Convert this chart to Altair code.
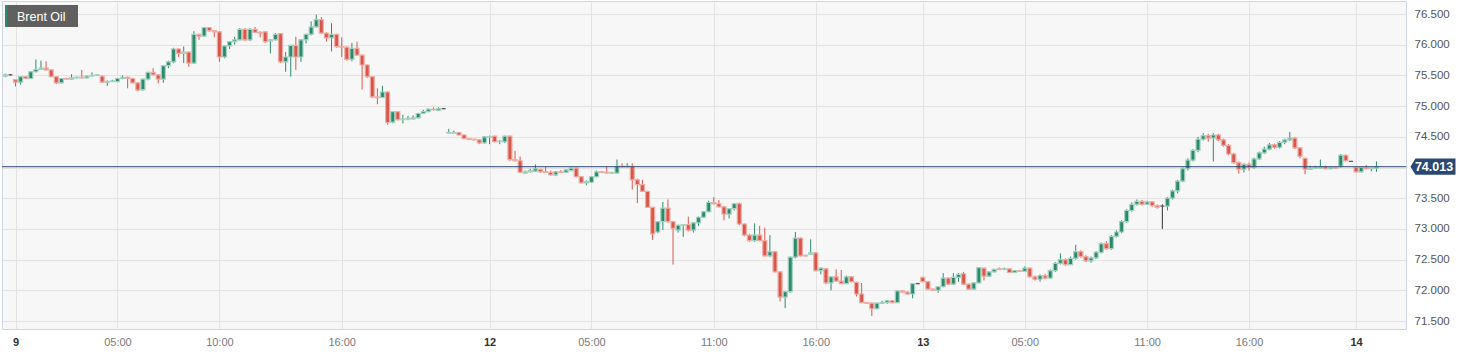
import altair as alt
import pandas as pd

# ---------------- data ----------------
opens = [
    75.49, 75.51, 75.43, 75.39, 75.48, 75.45, 75.56, 75.60, 75.62, 75.59,
    75.48, 75.38, 75.45, 75.44, 75.46, 75.47, 75.46, 75.49, 75.50, 75.49,
    75.39, 75.40, 75.40, 75.45, 75.47, 75.45, 75.38, 75.27, 75.44, 75.55,
    75.51, 75.44, 75.66, 75.72, 75.93, 75.86, 75.88, 75.70, 76.17, 76.14,
    76.28, 76.23, 76.21, 75.80, 75.98, 76.05, 76.08, 76.25, 76.08, 76.25,
    76.20, 76.21, 76.06, 76.08, 76.18, 75.72, 75.80, 75.99, 75.80, 76.08,
    76.17, 76.29, 76.41, 76.19, 76.11, 76.17, 75.97, 75.96, 75.76, 75.94,
    75.83, 75.67, 75.48, 75.15, 75.14, 75.23, 74.74, 74.91, 74.78, 74.79,
    74.79, 74.81, 74.88, 74.91, 74.95, 74.93, 74.96, 74.56, 74.56, 74.57,
    74.53, 74.47, 74.46, 74.45, 74.40, 74.49, 74.51, 74.42, 74.42, 74.51,
    74.13, 74.11, 73.91, 73.93, 73.94, 73.97, 73.93, 73.92, 73.88, 73.93,
    73.92, 73.95, 73.99, 73.85, 73.75, 73.76, 73.85, 73.93, 73.92, 73.91,
    73.91, 74.02, 74.01, 74.02, 73.80, 73.72, 73.61, 73.35, 72.95, 73.12,
    73.34, 73.12, 72.98, 73.06, 73.07, 72.98, 73.10, 73.19, 73.28, 73.43,
    73.41, 73.36, 73.24, 73.33, 73.41, 73.08, 72.90, 72.81, 72.90, 72.81,
    72.56, 72.63, 72.30, 71.89, 71.98, 72.54, 72.85, 72.57, 72.59, 72.61,
    72.32, 72.35, 72.12, 72.22, 72.15, 72.11, 72.22, 72.13, 71.94, 71.80,
    71.79, 71.70, 71.79, 71.80, 71.83, 71.80, 71.99, 71.97, 71.94, 72.11,
    72.21, 72.14, 72.02, 72.00, 72.06, 72.20, 72.10, 72.21, 72.27, 72.10,
    72.02, 72.12, 72.36, 72.23, 72.30, 72.35, 72.34, 72.35, 72.29, 72.32,
    72.31, 72.36, 72.22, 72.18, 72.24, 72.20, 72.32, 72.44, 72.50, 72.42,
    72.52, 72.63, 72.55, 72.48, 72.53, 72.62, 72.76, 72.68, 72.88, 72.95,
    73.12, 73.30, 73.40, 73.45, 73.40, 73.44, 73.38, 73.37, 73.37, 73.50,
    73.62, 73.78, 73.98, 74.12, 74.28, 74.46, 74.52, 74.48, 74.53, 74.45,
    74.36, 74.22, 74.08, 73.97, 74.05, 74.00, 74.14, 74.24, 74.30, 74.37,
    74.33, 74.41, 74.45, 74.48, 74.32, 74.15, 73.97, 73.99, 73.99, 74.01,
    73.98, 74.00, 74.02, 74.20, 74.10, 74.00, 73.93, 74.00, 73.98, 73.99,
]
highs = [
    75.53, 75.52, 75.44, 75.49, 75.49, 75.57, 75.76, 75.74, 75.73, 75.60,
    75.49, 75.46, 75.46, 75.52, 75.48, 75.59, 75.50, 75.55, 75.52, 75.50,
    75.42, 75.43, 75.46, 75.50, 75.48, 75.46, 75.39, 75.45, 75.56, 75.62,
    75.52, 75.67, 75.74, 75.95, 75.94, 75.97, 75.89, 76.22, 76.18, 76.29,
    76.29, 76.24, 76.22, 75.99, 76.06, 76.13, 76.27, 76.27, 76.27, 76.29,
    76.22, 76.22, 76.09, 76.19, 76.19, 75.88, 76.00, 76.13, 76.09, 76.18,
    76.38, 76.49, 76.45, 76.20, 76.35, 76.18, 76.12, 75.97, 76.03, 76.05,
    75.84, 75.68, 75.49, 75.29, 75.33, 75.24, 74.92, 74.92, 74.86, 74.84,
    74.85, 74.89, 74.94, 74.96, 74.98, 74.98, 74.97, 74.63, 74.60, 74.58,
    74.54, 74.48, 74.47, 74.46, 74.51, 74.52, 74.52, 74.45, 74.52, 74.52,
    74.27, 74.18, 73.95, 73.98, 74.05, 73.98, 74.01, 73.95, 73.94, 73.96,
    73.97, 74.00, 74.00, 73.86, 73.79, 73.86, 73.95, 73.94, 74.02, 73.93,
    74.13, 74.07, 74.07, 74.07, 73.82, 73.80, 73.62, 73.36, 73.13, 73.44,
    73.48, 73.13, 73.07, 73.08, 73.20, 73.11, 73.20, 73.29, 73.46, 73.52,
    73.47, 73.37, 73.34, 73.42, 73.43, 73.09, 72.92, 73.09, 73.05, 73.02,
    72.90, 72.64, 72.31, 71.99, 72.55, 72.95, 72.86, 72.58, 72.83, 72.62,
    72.37, 72.36, 72.23, 72.34, 72.33, 72.24, 72.23, 72.14, 72.12, 71.81,
    71.80, 71.80, 71.83, 71.84, 71.84, 72.00, 72.00, 71.98, 72.12, 72.12,
    72.22, 72.15, 72.03, 72.07, 72.28, 72.21, 72.28, 72.28, 72.30, 72.11,
    72.13, 72.38, 72.37, 72.31, 72.35, 72.37, 72.37, 72.36, 72.33, 72.33,
    72.39, 72.37, 72.24, 72.26, 72.27, 72.34, 72.46, 72.60, 72.52, 72.55,
    72.74, 72.65, 72.57, 72.55, 72.64, 72.78, 72.80, 72.90, 72.98, 73.14,
    73.32, 73.43, 73.48, 73.47, 73.46, 73.45, 73.40, 73.40, 73.52, 73.64,
    73.80, 74.00, 74.15, 74.30, 74.50, 74.56, 74.55, 74.56, 74.55, 74.47,
    74.38, 74.24, 74.10, 74.07, 74.08, 74.16, 74.26, 74.34, 74.40, 74.39,
    74.43, 74.47, 74.58, 74.50, 74.33, 74.16, 74.03, 74.03, 74.13, 74.03,
    74.02, 74.01, 74.22, 74.21, 74.10, 74.01, 74.01, 74.04, 74.00, 74.10,
]
lows = [
    75.47, 75.50, 75.32, 75.35, 75.44, 75.44, 75.55, 75.59, 75.58, 75.47,
    75.36, 75.37, 75.43, 75.43, 75.45, 75.45, 75.45, 75.48, 75.49, 75.38,
    75.33, 75.39, 75.39, 75.44, 75.29, 75.37, 75.24, 75.25, 75.42, 75.50,
    75.37, 75.38, 75.62, 75.70, 75.80, 75.70, 75.64, 75.69, 76.08, 76.13,
    76.21, 76.12, 75.72, 75.78, 75.93, 76.00, 76.07, 76.06, 76.06, 76.19,
    76.12, 76.03, 75.86, 76.07, 75.70, 75.56, 75.48, 75.59, 75.72, 76.02,
    76.15, 76.28, 76.18, 76.05, 75.89, 75.95, 75.80, 75.74, 75.73, 75.82,
    75.27, 75.46, 75.13, 75.03, 75.13, 74.70, 74.72, 74.77, 74.72, 74.77,
    74.78, 74.80, 74.87, 74.90, 74.93, 74.92, 74.95, 74.56, 74.56, 74.52,
    74.46, 74.45, 74.44, 74.38, 74.39, 74.38, 74.41, 74.38, 74.40, 74.11,
    74.10, 73.91, 73.90, 73.92, 73.93, 73.92, 73.91, 73.87, 73.86, 73.91,
    73.91, 73.94, 73.84, 73.74, 73.71, 73.75, 73.84, 73.91, 73.90, 73.90,
    73.90, 74.00, 74.00, 73.64, 73.42, 73.60, 73.34, 72.82, 72.93, 72.98,
    73.10, 72.42, 72.94, 72.87, 72.96, 72.94, 73.05, 73.18, 73.27, 73.40,
    73.35, 73.14, 73.17, 73.30, 73.06, 72.88, 72.79, 72.79, 72.80, 72.55,
    72.54, 72.29, 71.82, 71.71, 71.96, 72.52, 72.55, 72.55, 72.58, 72.31,
    72.26, 72.10, 72.00, 72.14, 72.10, 72.10, 72.13, 71.90, 71.79, 71.78,
    71.58, 71.69, 71.78, 71.78, 71.79, 71.79, 71.96, 71.93, 71.87, 72.10,
    72.13, 72.01, 71.99, 71.96, 72.05, 72.09, 72.09, 72.14, 72.09, 72.01,
    72.01, 72.11, 72.16, 72.22, 72.29, 72.33, 72.33, 72.28, 72.28, 72.30,
    72.30, 72.21, 72.16, 72.14, 72.18, 72.19, 72.30, 72.42, 72.40, 72.41,
    72.50, 72.53, 72.46, 72.45, 72.51, 72.60, 72.66, 72.66, 72.86, 72.93,
    73.10, 73.28, 73.38, 73.38, 73.39, 73.36, 73.33, 73.00, 73.30, 73.48,
    73.58, 73.76, 73.95, 74.10, 74.25, 74.44, 74.42, 74.10, 74.43, 74.34,
    74.20, 74.06, 73.90, 73.92, 73.95, 73.98, 74.12, 74.22, 74.28, 74.31,
    74.31, 74.38, 74.43, 74.30, 74.15, 73.89, 73.96, 73.98, 73.98, 73.97,
    73.97, 73.98, 74.00, 74.10, 74.10, 73.92, 73.92, 73.97, 73.94, 73.93,
]
closes = [
    75.51, 75.51, 75.39, 75.48, 75.45, 75.56, 75.60, 75.62, 75.59, 75.48,
    75.38, 75.45, 75.44, 75.46, 75.47, 75.46, 75.49, 75.50, 75.51, 75.39,
    75.40, 75.41, 75.45, 75.47, 75.45, 75.38, 75.26, 75.44, 75.55, 75.51,
    75.44, 75.66, 75.72, 75.93, 75.86, 75.88, 75.70, 76.17, 76.14, 76.28,
    76.23, 76.21, 75.80, 75.98, 76.05, 76.08, 76.25, 76.08, 76.25, 76.20,
    76.19, 76.05, 76.08, 76.17, 75.72, 75.80, 75.99, 75.80, 76.08, 76.17,
    76.29, 76.41, 76.19, 76.11, 76.17, 75.97, 75.96, 75.76, 75.94, 75.83,
    75.67, 75.48, 75.15, 75.14, 75.23, 74.73, 74.91, 74.78, 74.79, 74.80,
    74.81, 74.88, 74.91, 74.95, 74.94, 74.96, 74.96, 74.57, 74.57, 74.53,
    74.47, 74.46, 74.45, 74.40, 74.50, 74.50, 74.42, 74.43, 74.51, 74.13,
    74.11, 73.92, 73.93, 73.95, 73.98, 73.93, 73.92, 73.88, 73.93, 73.92,
    73.96, 73.99, 73.85, 73.75, 73.77, 73.85, 73.93, 73.92, 73.91, 73.92,
    74.02, 74.01, 74.02, 73.80, 73.72, 73.61, 73.35, 72.92, 73.12, 73.34,
    73.12, 73.01, 73.06, 73.07, 72.98, 73.10, 73.19, 73.28, 73.43, 73.41,
    73.36, 73.24, 73.33, 73.41, 73.08, 72.90, 72.81, 72.90, 72.81, 72.56,
    72.63, 72.30, 71.89, 71.98, 72.54, 72.85, 72.56, 72.56, 72.61, 72.32,
    72.36, 72.12, 72.22, 72.15, 72.11, 72.22, 72.14, 71.94, 71.80, 71.79,
    71.70, 71.79, 71.80, 71.83, 71.80, 71.99, 71.97, 71.94, 72.11, 72.11,
    72.14, 72.02, 72.00, 72.06, 72.20, 72.10, 72.21, 72.26, 72.10, 72.02,
    72.12, 72.37, 72.23, 72.30, 72.34, 72.34, 72.35, 72.29, 72.32, 72.31,
    72.36, 72.22, 72.18, 72.24, 72.20, 72.32, 72.44, 72.50, 72.42, 72.52,
    72.63, 72.55, 72.48, 72.53, 72.62, 72.76, 72.68, 72.88, 72.95, 73.12,
    73.30, 73.40, 73.45, 73.40, 73.44, 73.38, 73.35, 73.37, 73.50, 73.62,
    73.78, 73.98, 74.12, 74.28, 74.46, 74.52, 74.48, 74.53, 74.45, 74.36,
    74.22, 74.08, 73.97, 74.05, 74.00, 74.14, 74.24, 74.30, 74.37, 74.33,
    74.41, 74.45, 74.48, 74.32, 74.18, 73.97, 73.99, 74.00, 74.01, 73.98,
    74.00, 73.99, 74.20, 74.11, 74.10, 73.93, 74.00, 73.98, 73.99, 74.013,
]

tick_index = [2, 22, 42, 66, 95, 115, 139, 159, 180, 200, 224, 244, 265]
tick_text = ["9", "05:00", "10:00", "16:00", "12", "05:00", "11:00", "16:00",
             "13", "05:00", "11:00", "16:00", "14"]
day_ticks = [2, 95, 180, 265]
y_ticks = [71.5, 72.0, 72.5, 73.0, 73.5, 74.0, 74.5, 75.0, 75.5, 76.0, 76.5]
hidden_y_label = 74.0   # covered by the last-price tag in the reference
last_price = 74.013
instrument = "Brent Oil"

# ---------------- build table ----------------
def direction(o, c):
    if c > o:
        return "up"
    if c < o:
        return "down"
    return "flat"

df = pd.DataFrame({
    "idx": list(range(len(opens))),
    "open": opens, "high": highs, "low": lows, "close": closes,
})
df["dir"] = [direction(o, c) for o, c in zip(opens, closes)]

FONT = "Liberation Sans"
dirs = ["up", "down", "flat"]
body_fill = ["#2c8a6c", "#d9574a", "#333333"]
body_halo = ["#a3d2c1", "#efaca4", "#555555"]

x_scale = alt.Scale(domain=[-0.65, 274.8], nice=False, zero=False, padding=0)
y_scale = alt.Scale(domain=[71.37, 76.712], nice=False, zero=False, padding=0)

arr_idx = "[" + ",".join(str(v) for v in tick_index) + "]"
arr_txt = "[" + ",".join("'" + t + "'" for t in tick_text) + "]"
day_arr = "[" + ",".join(str(v) for v in day_ticks) + "]"
is_day = "indexof(" + day_arr + ", datum.value) >= 0"

x_axis = alt.Axis(
    values=tick_index, tickCount=len(tick_index) + 5,
    labelExpr=arr_txt + "[indexof(" + arr_idx + ", datum.value)]",
    grid=True, gridColor="#e3e3e3", gridWidth=1,
    domain=False, ticks=False, title=None,
    labelFont=FONT, labelFontSize=11, labelPadding=7,
    labelFlush=False, labelOverlap=False,
    labelColor={"condition": {"test": is_day, "value": "#333333"}, "value": "#7a7a7a"},
    labelFontWeight={"condition": {"test": is_day, "value": "bold"}, "value": "normal"},
)
y_axis = alt.Axis(
    orient="right", values=y_ticks, tickCount=len(y_ticks) + 5,
    labelExpr="abs(datum.value - " + str(hidden_y_label) + ") < 0.001 ? '' : format(datum.value, '.3f')",
    grid=True, gridColor="#e3e3e3", gridWidth=1,
    domain=False, ticks=False, title=None,
    labelFont=FONT, labelFontSize=11.5, labelColor="#555555", labelPadding=8,
    labelOverlap=False, labelFlush=False,
)

base = alt.Chart(df)

wicks = base.mark_rule(strokeWidth=1).encode(
    x=alt.X("idx:Q", scale=x_scale, axis=x_axis),
    y=alt.Y("low:Q", scale=y_scale, axis=y_axis),
    y2="high:Q",
    color=alt.Color("dir:N", scale=alt.Scale(domain=dirs, range=body_fill), legend=None),
)

bodies = base.mark_bar(size=4, strokeWidth=1.2).encode(
    x="idx:Q",
    y="open:Q",
    y2="close:Q",
    fill=alt.Fill("dir:N", scale=alt.Scale(domain=dirs, range=body_fill), legend=None),
    stroke=alt.Stroke("dir:N", scale=alt.Scale(domain=dirs, range=body_halo), legend=None),
)

price_df = pd.DataFrame({"price": [last_price], "label": [f"{last_price:.3f}"]})
price_line = alt.Chart(price_df).mark_rule(color="#2b4872", strokeWidth=1).encode(
    y="price:Q"
)
tag_shape = "M -1 0 L -0.78 -0.36 L 1 -0.36 L 1 0.36 L -0.78 0.36 Z"
price_tag = alt.Chart(price_df).mark_point(
    shape=tag_shape, size=2025, filled=True, fill="#2b4872", opacity=1, strokeWidth=0
).encode(x=alt.value(1431), y="price:Q")
price_text = alt.Chart(price_df).mark_text(
    color="white", fontWeight="bold", fontSize=12.5, font=FONT, align="center", baseline="middle", dx=1
).encode(x=alt.value(1431), y="price:Q", text="label:N")

title_df = pd.DataFrame({"name": [instrument]})
title_box = alt.Chart(title_df).mark_rect(color="#5a5a5a", opacity=0.96).encode(
    x=alt.value(3), x2=alt.value(76), y=alt.value(4), y2=alt.value(26)
)
title_strip = alt.Chart(title_df).mark_rect(color="#2c8a6c").encode(
    x=alt.value(3), x2=alt.value(5.5), y=alt.value(4), y2=alt.value(26)
)
title_text = alt.Chart(title_df).mark_text(
    color="white", fontSize=12.5, font=FONT, align="left", baseline="middle"
).encode(x=alt.value(15), y=alt.value(15.5), text="name:N")

chart = alt.layer(
    wicks, bodies, price_line, price_tag, price_text, title_box, title_strip, title_text
).properties(
    width=1404, height=328,
    padding={"left": 2, "top": 1, "right": 65, "bottom": 26},
    autosize=alt.AutoSizeParams(type="none"),
    background="white",
).configure_view(
    fill="#f7f7f7", stroke="#cdd4e3", strokeWidth=1
)

chart.save("out.html", embed_options={"renderer": "svg", "actions": False})
